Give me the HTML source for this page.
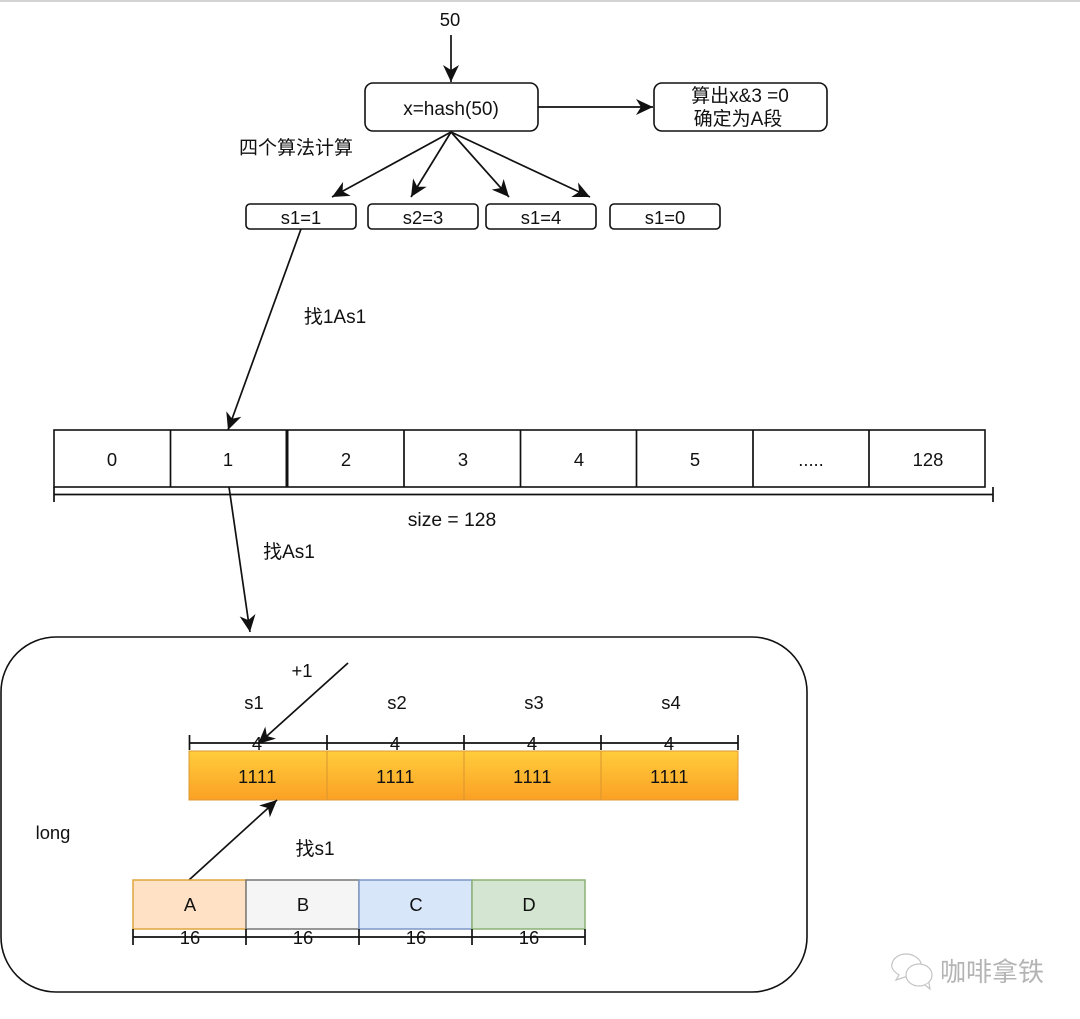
<!DOCTYPE html>
<html>
<head>
<meta charset="utf-8">
<style>
html,body{margin:0;padding:0;background:#fff;}
svg{display:block;}
text{font-family:"Liberation Sans","Noto Sans CJK SC",sans-serif;font-size:19px;fill:#111;text-anchor:middle;font-kerning:none;}
.s{font-size:18.4px;}
.n{font-size:18px;letter-spacing:-0.6px;}
.b{fill:#fff;stroke:#111;stroke-width:1.6;}
.l{stroke:#111;stroke-width:1.7;fill:none;}
</style>
</head>
<body>
<svg width="1080" height="1019" viewBox="0 0 1080 1019" xmlns="http://www.w3.org/2000/svg">
<defs>
<marker id="a" markerUnits="userSpaceOnUse" markerWidth="20" markerHeight="18" refX="17" refY="8" orient="auto">
<path d="M0 0 L17 8 L0 16 L5 8 Z" fill="#111"/>
</marker>
<linearGradient id="o" x1="0" y1="0" x2="0" y2="1">
<stop offset="0" stop-color="#ffcd3c"/>
<stop offset="1" stop-color="#fba024"/>
</linearGradient>
</defs>
<rect x="0" y="0" width="1080" height="2" fill="#d4d4d4"/>

<text x="450" y="26" class="s">50</text>
<line class="l" x1="451" y1="35" x2="451" y2="82" marker-end="url(#a)"/>
<rect class="b" x="365" y="83" width="173" height="48" rx="8"/>
<text x="451" y="115">x=hash(50)</text>
<line class="l" x1="538" y1="107" x2="653" y2="107" marker-end="url(#a)"/>
<rect class="b" x="654" y="83" width="173" height="48" rx="8"/>
<text x="740" y="102">算出x&amp;3 =0</text>
<text x="738" y="125">确定为A段</text>
<text x="296" y="154">四个算法计算</text>

<line class="l" x1="451" y1="132" x2="332" y2="197" marker-end="url(#a)"/>
<line class="l" x1="451" y1="132" x2="411" y2="197" marker-end="url(#a)"/>
<line class="l" x1="451" y1="132" x2="509" y2="197" marker-end="url(#a)"/>
<line class="l" x1="451" y1="132" x2="590" y2="197" marker-end="url(#a)"/>

<rect class="b" x="246" y="204" width="110" height="25" rx="4"/>
<rect class="b" x="368" y="204" width="110" height="25" rx="4"/>
<rect class="b" x="486" y="204" width="110" height="25" rx="4"/>
<rect class="b" x="610" y="204" width="110" height="25" rx="4"/>
<text x="301" y="224" class="s">s1=1</text>
<text x="423" y="224" class="s">s2=3</text>
<text x="541" y="224" class="s">s1=4</text>
<text x="665" y="224" class="s">s1=0</text>

<line class="l" x1="301" y1="229" x2="228" y2="430" marker-end="url(#a)"/>
<text x="335" y="323">找1As1</text>

<rect class="b" x="54" y="430" width="931" height="57"/>
<line class="l" x1="170.500" y1="430" x2="170.500" y2="487"/>
<line class="l" x1="287" y1="430" x2="287" y2="487" style="stroke-width:3"/>
<line class="l" x1="404" y1="430" x2="404" y2="487"/>
<line class="l" x1="520.500" y1="430" x2="520.500" y2="487"/>
<line class="l" x1="636.500" y1="430" x2="636.500" y2="487"/>
<line class="l" x1="753" y1="430" x2="753" y2="487"/>
<line class="l" x1="869" y1="430" x2="869" y2="487"/>
<text x="112" y="466" class="s">0</text>
<text x="228" y="466" class="s">1</text>
<text x="346" y="466" class="s">2</text>
<text x="463" y="466" class="s">3</text>
<text x="579" y="466" class="s">4</text>
<text x="695" y="466" class="s">5</text>
<text x="811" y="466" class="s">.....</text>
<text x="928" y="466" class="s">128</text>

<line class="l" x1="54" y1="494.500" x2="993" y2="494.500"/>
<line class="l" x1="54" y1="487" x2="54" y2="502"/>
<line class="l" x1="993" y1="487" x2="993" y2="502"/>
<text x="452" y="526" style="font-size:19.300px">size = 128</text>

<line class="l" x1="229" y1="487" x2="250" y2="632" marker-end="url(#a)"/>
<text x="289" y="558">找As1</text>

<rect class="b" x="1" y="637" width="806" height="355" rx="55"/>
<text x="302" y="677" class="s">+1</text>
<text x="254" y="709" class="s">s1</text>
<text x="397" y="709" class="s">s2</text>
<text x="534" y="709" class="s">s3</text>
<text x="671" y="709" class="s">s4</text>

<line class="l" x1="189" y1="743" x2="738" y2="743"/>
<g class="l">
<line x1="189.500" y1="735" x2="189.500" y2="750"/>
<line x1="327" y1="735" x2="327" y2="750"/>
<line x1="464" y1="735" x2="464" y2="750"/>
<line x1="601" y1="735" x2="601" y2="750"/>
<line x1="738" y1="735" x2="738" y2="750"/>
</g>
<text x="257" y="750" class="s">4</text>
<text x="395" y="750" class="s">4</text>
<text x="532" y="750" class="s">4</text>
<text x="669" y="750" class="s">4</text>
<line class="l" x1="348" y1="663" x2="258" y2="744" marker-end="url(#a)"/>

<rect x="189" y="751" width="549" height="49" fill="url(#o)" stroke="#dd9a35" stroke-width="1"/>
<line x1="327" y1="751" x2="327" y2="800" stroke="#d9952f" stroke-width="1"/>
<line x1="464" y1="751" x2="464" y2="800" stroke="#d9952f" stroke-width="1"/>
<line x1="601" y1="751" x2="601" y2="800" stroke="#d9952f" stroke-width="1"/>
<text x="257" y="783" class="n">1111</text>
<text x="395" y="783" class="n">1111</text>
<text x="532" y="783" class="n">1111</text>
<text x="669" y="783" class="n">1111</text>

<line class="l" x1="189" y1="880" x2="277" y2="800" marker-end="url(#a)"/>
<text x="53" y="839" class="s">long</text>
<text x="315" y="855">找s1</text>

<rect x="133" y="880" width="113" height="49" fill="#ffe2c6" stroke="#dfa63f" stroke-width="1.5"/>
<rect x="246" y="880" width="113" height="49" fill="#f5f5f5" stroke="#777" stroke-width="1.500"/>
<rect x="359" y="880" width="113" height="49" fill="#d7e6f9" stroke="#7d97c6" stroke-width="1.500"/>
<rect x="472" y="880" width="113" height="49" fill="#d4e6d1" stroke="#8cb274" stroke-width="1.500"/>
<text x="190" y="911" class="s">A</text>
<text x="303" y="911" class="s">B</text>
<text x="416" y="911" class="s">C</text>
<text x="529" y="911" class="s">D</text>

<text x="190" y="944" class="s">16</text>
<text x="303" y="944" class="s">16</text>
<text x="416" y="944" class="s">16</text>
<text x="529" y="944" class="s">16</text>
<line class="l" x1="133" y1="937" x2="585" y2="937"/>
<g class="l">
<line x1="133" y1="929" x2="133" y2="945"/>
<line x1="246" y1="929" x2="246" y2="945"/>
<line x1="359" y1="929" x2="359" y2="945"/>
<line x1="472" y1="929" x2="472" y2="945"/>
<line x1="585" y1="929" x2="585" y2="945"/>
</g>

<g fill="#fff" stroke="#c4c4c4" stroke-width="1.200">
<path d="M896 980 L899 975 C893 971 891 967 892 964 C893 958 899 954 906 954 C913 954 919 958 921 963 L921 978 L905 977 Z"/>
<ellipse cx="919" cy="975" rx="13" ry="11"/>
<path d="M925 985 L930 989 L929 983" />
</g>
<text x="992" y="981" style="font-size:26px;fill:#b4b4b4">咖啡拿铁</text>
</svg>
</body>
</html>
